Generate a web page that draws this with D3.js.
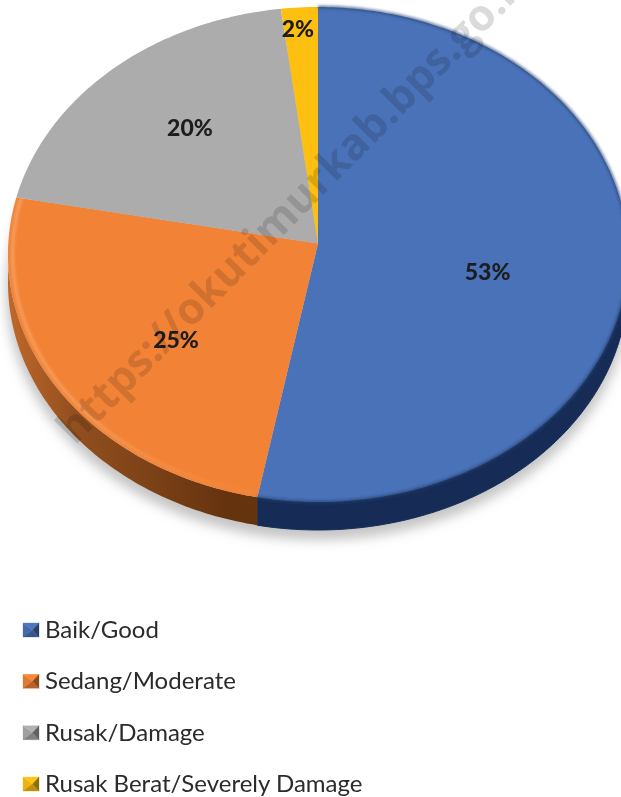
<!DOCTYPE html>
<html lang="en">
<head>
<meta charset="UTF-8">
<title>Pie</title>
<script src="https://d3js.org/d3.v7.min.js"></script>
<style>
  html, body { margin: 0; padding: 0; background: #fff; overflow: hidden; }
  svg { display: block; }
  .pct { font: 900 23px Lato, sans-serif; fill: #1d1d1f; text-anchor: middle; }
  .leg { font: 400 24px Lato, sans-serif; fill: #2b2a2c; }
  .mark { font: 700 43.5px "Open Sans", sans-serif; fill: #3a3a3a; fill-opacity: .18; }
</style>
</head>
<body>
<svg width="621" height="797"></svg>
<script>
const categories = ["Baik/Good", "Sedang/Moderate", "Rusak/Damage", "Rusak Berat/Severely Damage"];
const values = [53, 25, 20, 2];
const topColors = ["#4a72b8", "#f28336", "#acacac", "#fdc010"];
const sideColors = ["#162c56", "#6a3513", "#6b6b6b", "#8f6d08"];
const watermark = "https://okutimurkab.bps.go.id";

const svg = d3.select("svg");
const cx = 318, cy = 254.5, rx = 310, ry = 247.5, depth = 28;
const apexShift = 11 / ry; // the slices meet above the middle of the ellipse (perspective)

const x = d3.scaleLinear().domain([-1, 1]).range([cx - rx, cx + rx]);
const y = d3.scaleLinear().domain([-1, 1]).range([cy + ry, cy - ry]);

const pie = d3.pie().sort(null);
const slices = pie(values);

// point on the rim for a pie angle, with the perspective shift applied
function rim(a) {
  const X = Math.sin(a), Y = Math.cos(a);
  const k = 1 + apexShift * Y;
  return [X * Math.sqrt(1 - apexShift * apexShift) / k, (Y + apexShift) / k];
}
const toPx = p => [x(p[0]), y(p[1])];
const line = d3.line();

function rimPoints(a0, a1, inset) {
  const f = inset || 1;
  const n = Math.max(2, Math.ceil((a1 - a0) * 60));
  return d3.range(n + 1).map(i => {
    const p = rim(a0 + (a1 - a0) * i / n);
    return toPx([p[0] * f, p[1] * f]);
  });
}

const defs = svg.append("defs");
defs.append("filter").attr("id", "shadow").attr("x", "-10%").attr("y", "-10%").attr("width", "120%").attr("height", "120%")
  .append("feGaussianBlur").attr("stdDeviation", 6);
defs.append("filter").attr("id", "soft").attr("x", "-10%").attr("y", "-10%").attr("width", "120%").attr("height", "120%")
  .append("feGaussianBlur").attr("stdDeviation", 1.5);

const orangeSide = defs.append("linearGradient").attr("id", "orangeSide")
  .attr("gradientUnits", "userSpaceOnUse")
  .attr("x1", x(-1)).attr("x2", x(-0.3)).attr("y1", 0).attr("y2", 0);
orangeSide.append("stop").attr("offset", 0).attr("stop-color", "#c0682a");
orangeSide.append("stop").attr("offset", .3).attr("stop-color", "#93501f");
orangeSide.append("stop").attr("offset", 1).attr("stop-color", "#66330f");

const bevelFade = defs.append("linearGradient").attr("id", "bevelFade")
  .attr("gradientUnits", "userSpaceOnUse")
  .attr("x1", 0).attr("x2", 0).attr("y1", 200).attr("y2", 500);
bevelFade.append("stop").attr("offset", 0).attr("stop-color", "#f9ab70").attr("stop-opacity", .9);
bevelFade.append("stop").attr("offset", .7).attr("stop-color", "#f9ab70").attr("stop-opacity", .8);
bevelFade.append("stop").attr("offset", 1).attr("stop-color", "#f9ab70").attr("stop-opacity", 0);

// shadow under the disc
svg.append("ellipse")
  .attr("cx", cx).attr("cy", cy + depth + 9)
  .attr("rx", rx + 2).attr("ry", ry + 1)
  .attr("fill", "#8c8c8c").attr("fill-opacity", .5)
  .attr("filter", "url(#shadow)");

// side wall, only the part of each slice on the lower half of the rim
const lowStart = Math.PI / 2, lowEnd = Math.PI * 1.5;
slices.forEach((s, i) => {
  const a0 = Math.max(s.startAngle, lowStart), a1 = Math.min(s.endAngle, lowEnd);
  if (a1 <= a0) return;
  const upper = rimPoints(a0, a1);
  const lower = upper.map(p => [p[0], p[1] + depth]).reverse();
  svg.append("path")
    .attr("d", line(upper.concat(lower)) + "Z")
    .attr("fill", i === 1 ? "url(#orangeSide)" : sideColors[i])
    .attr("stroke", i === 1 ? "none" : sideColors[i]);
});

// top face
const apex = toPx([0, apexShift]);
slices.forEach((s, i) => {
  svg.append("path")
    .attr("d", line([apex].concat(rimPoints(s.startAngle, s.endAngle))) + "Z")
    .attr("fill", topColors[i]);
});

// soft lighter bevel just inside the rim of the orange slice
svg.append("path")
  .attr("d", line(rimPoints(slices[1].startAngle, slices[1].endAngle, 0.985)))
  .attr("fill", "none").attr("stroke", "url(#bevelFade)").attr("stroke-width", 2.5).attr("filter", "url(#soft)");

// dark soft line on the blue rim
svg.append("path")
  .attr("d", line(rimPoints(slices[0].startAngle, slices[0].endAngle)))
  .attr("fill", "none").attr("stroke", "#23406f").attr("stroke-width", 2).attr("filter", "url(#soft)");

// percent labels
const labelAt = [[0.547, -0.07], [-0.458, -0.345], [-0.413, 0.51], [-0.065, 0.91]];
svg.selectAll("text.pct").data(values).enter().append("text")
  .attr("class", "pct")
  .attr("x", (d, i) => x(labelAt[i][0]))
  .attr("y", (d, i) => y(labelAt[i][1]) + 8)
  .text(d => d + "%");

// legend
const legY = d3.scalePoint().domain(categories).range([630, 784]);
const legend = svg.selectAll("g.legend").data(categories).enter().append("g")
  .attr("class", "legend")
  .attr("transform", d => `translate(23,${legY(d)})`);
const boxW = 16, boxH = 14;
legend.each(function (d, i) {
  const g = d3.select(this);
  const base = d3.color(topColors[i]);
  const mid = [boxW * .6, 0];
  const tl = [0, -boxH / 2], tr = [boxW, -boxH / 2], br = [boxW, boxH / 2], bl = [0, boxH / 2];
  const parts = [
    [[bl, tl, mid], base.darker(.2)],
    [[tl, tr, mid], base.brighter(.1)],
    [[br, bl, mid], base.darker(.8)],
    [[tr, br, mid], base.darker(1.6)]
  ];
  parts.forEach(p => g.append("path").attr("d", line(p[0]) + "Z")
    .attr("fill", p[1]).attr("stroke", p[1]).attr("stroke-width", .3));
});
legend.append("text").attr("class", "leg").attr("x", 22).attr("y", 8).text(d => d);

// watermark
svg.append("text")
  .attr("class", "mark")
  .attr("transform", "translate(75,446) rotate(-45.3)")
  .style("mix-blend-mode", "multiply")
  .text(watermark);
</script>
</body>
</html>
